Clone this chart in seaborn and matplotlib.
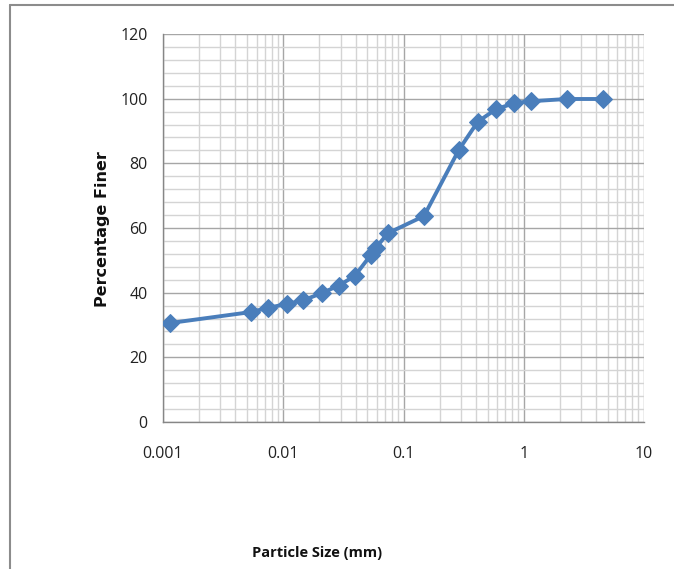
import matplotlib
matplotlib.use("Agg")
import matplotlib.pyplot as plt
import seaborn as sns
import pandas as pd
import numpy as np
from matplotlib.ticker import LogLocator, MultipleLocator, FixedLocator, NullFormatter
from matplotlib.lines import Line2D

particle_size_mm = [0.00114, 0.00538, 0.00746, 0.0107, 0.0146, 0.021, 0.029, 0.0394,
                    0.0536, 0.059, 0.0742, 0.148, 0.289, 0.415, 0.586, 0.828, 1.146, 2.28, 4.55]
percent_finer = [30.6, 34.0, 35.3, 36.5, 37.6, 39.9, 42.2, 45.2,
                 51.7, 53.9, 58.4, 63.7, 84.2, 92.9, 96.7, 98.6, 99.2, 99.9, 99.9]
x_ticks = [0.001, 0.01, 0.1, 1, 10]
x_tick_labels = ["0.001", "0.01", "0.1", "1", "10"]
y_ticks = [0, 20, 40, 60, 80, 100, 120]

df = pd.DataFrame({"size": particle_size_mm, "finer": percent_finer})

sns.set_theme(style="white")
tick_font = ["Liberation Sans Narrow", "Open Sans", "DejaVu Sans"]

fig = plt.figure(figsize=(6.74, 5.69), dpi=100)
ax = fig.add_axes([163/674, 1-422/569, (644-163)/674, (422-34)/569])

ax.set_xscale("log")
ax.set_xlim(0.001, 10)
ax.set_ylim(0, 120)

ax.xaxis.set_major_locator(FixedLocator(x_ticks))
ax.xaxis.set_minor_locator(LogLocator(base=10, subs=np.arange(2, 10)))
ax.xaxis.set_minor_formatter(NullFormatter())
ax.set_xticks(x_ticks)
ax.set_xticklabels(x_tick_labels)
ax.set_yticks(y_ticks)
ax.yaxis.set_minor_locator(MultipleLocator(4))

ax.grid(which="major", color="#a6a6a6", linewidth=1.0)
ax.grid(which="minor", color="#d4d4d4", linewidth=1.0)
ax.set_axisbelow(True)

sns.lineplot(data=df, x="size", y="finer", ax=ax, color="#4a7ebb", linewidth=2.8,
             marker="D", markersize=9.5, markeredgecolor="#4a7ebb", markerfacecolor="#4a7ebb",
             zorder=5, estimator=None, sort=False)

for s in ["top", "right"]:
    ax.spines[s].set_visible(False)
ax.spines["left"].set_color("#868686")
ax.spines["bottom"].set_color("#868686")
ax.spines["left"].set_linewidth(1.0)
ax.spines["bottom"].set_linewidth(1.0)

ax.tick_params(axis="both", which="major", length=5, width=1, color="#868686",
               direction="out", pad=6, labelsize=11.5, labelcolor="#222222")
ax.tick_params(axis="x", which="major", pad=12)
ax.tick_params(axis="both", which="minor", length=0)
for lab in ax.get_xticklabels() + ax.get_yticklabels():
    lab.set_family(tick_font)

ax.set_xlabel("")
ax.set_ylabel("")

fig.text(102/674, 1-229/569, "Percentage Finer", rotation=90, ha="center", va="center",
         fontsize=11.5, fontweight="bold", family=["DejaVu Sans"], color="#111111")
fig.text(317/674, 1-553/569, "Particle Size (mm)", ha="center", va="center",
         fontsize=10.5, fontweight="bold", family=tick_font, color="#111111")

# outer chart frame (cropped)
fig.add_artist(Line2D([10/674, 10/674], [0, 1-5/569], transform=fig.transFigure,
                      color="#8c8c8c", linewidth=1.5))
fig.add_artist(Line2D([10/674, 1], [1-5/569, 1-5/569], transform=fig.transFigure,
                      color="#8c8c8c", linewidth=1.5))

fig.savefig("out.png", dpi=100)
